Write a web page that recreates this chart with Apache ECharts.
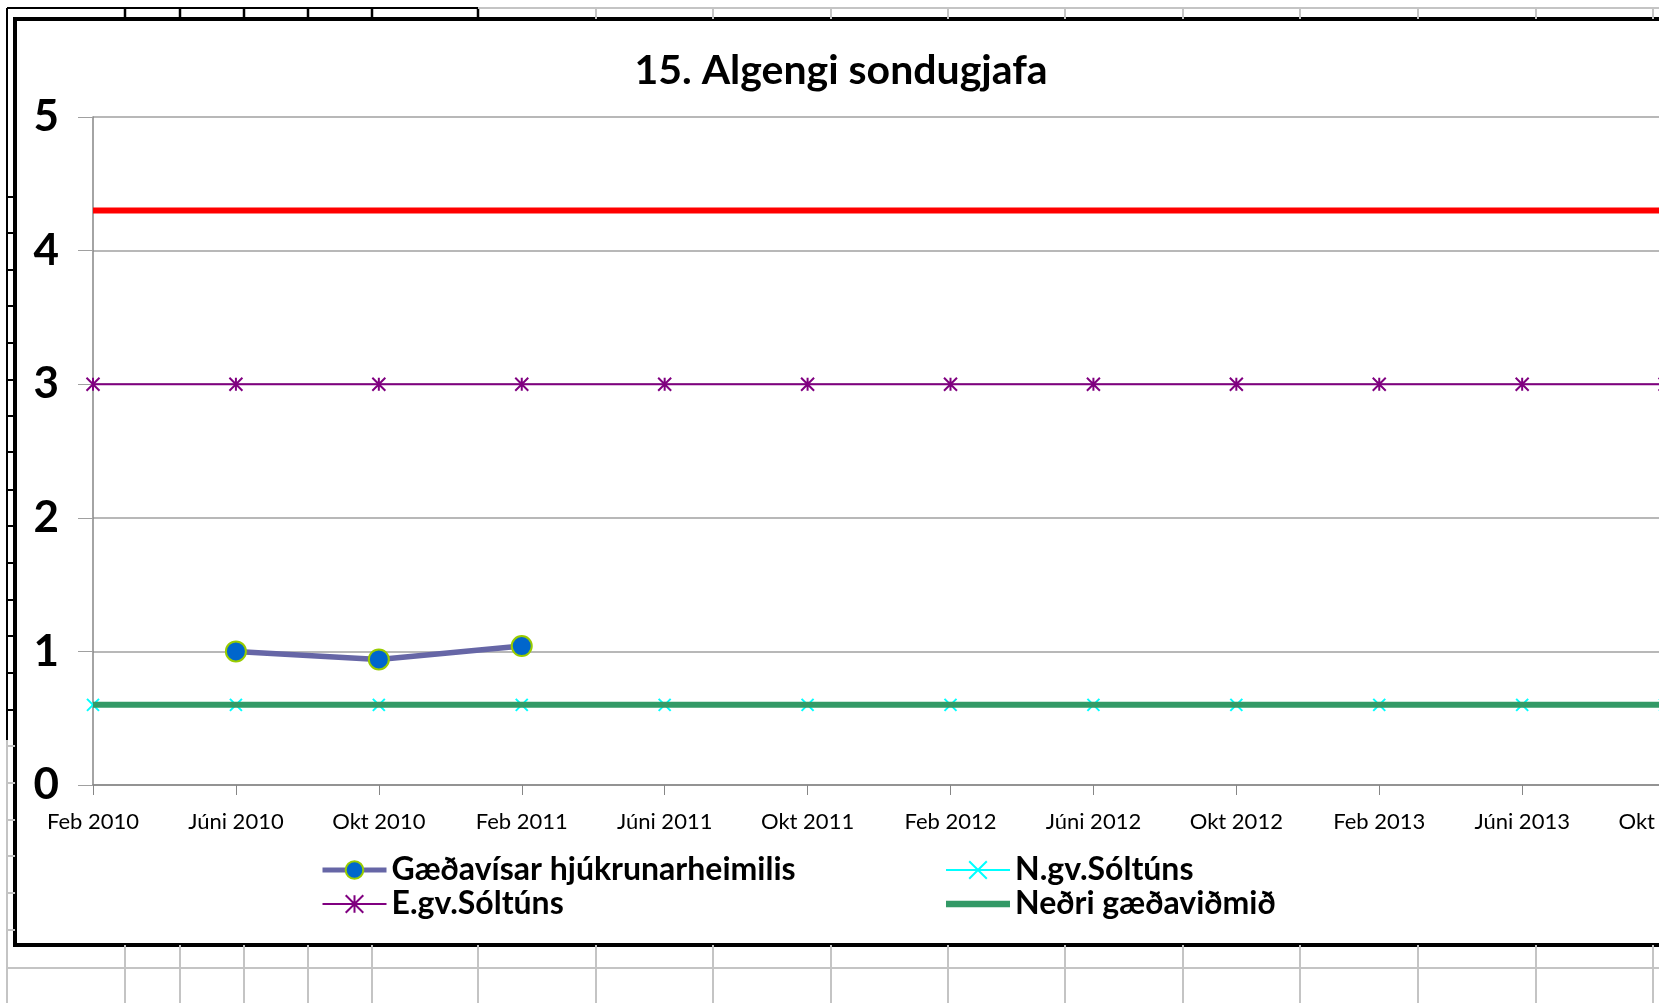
<!DOCTYPE html>
<html>
<head>
<meta charset="utf-8">
<title>15. Algengi sondugjafa</title>
<script src="https://cdn.jsdelivr.net/npm/echarts@6/dist/echarts.min.js"></script>
<style>
  html, body { margin: 0; padding: 0; overflow: hidden; background: #fff; }
  #main { width: 1900px; height: 1003px; }
</style>
</head>
<body>
<div id="main"></div>
<script>
// flokkar (mælingar á 4 mánaða fresti)
const categories = ['Feb 2010', 'Júni 2010', 'Okt 2010', 'Feb 2011', 'Júni 2011', 'Okt 2011',
  'Feb 2012', 'Júni 2012', 'Okt 2012', 'Feb 2013', 'Júni 2013', 'Okt 2013', 'Feb 2014']
const yTicks = [0, 1, 2, 3, 4, 5]

const gaedavisar = [null, 1.0, 0.94, 1.04, null, null, null, null, null, null, null, null, null]
const ngvSoltuns = [0.6, 0.6, 0.6, 0.6, 0.6, 0.6, 0.6, 0.6, 0.6, 0.6, 0.6, 0.6, 0.6]
const egvSoltuns = [3, 3, 3, 3, 3, 3, 3, 3, 3, 3, 3, 3, 3]
const nedriMid = [0.6, 0.6, 0.6, 0.6, 0.6, 0.6, 0.6, 0.6, 0.6, 0.6, 0.6, 0.6, 0.6]
const efriMid = [4.3, 4.3, 4.3, 4.3, 4.3, 4.3, 4.3, 4.3, 4.3, 4.3, 4.3, 4.3, 4.3]

const FONT = 'Lato, "Open Sans", sans-serif'
const GRID_GRAY = '#c4c4c4'

// excel frumur i bakgrunni
const sheetCols = [125, 180, 244, 308, 372, 478, 596, 713, 831, 948, 1065, 1183, 1300, 1418, 1536, 1653]
const sheetLines = []
sheetCols.forEach((x, i) => {
  const dark = i < 6
  sheetLines.push({ type: 'line', shape: { x1: x, y1: 8, x2: x, y2: 19 },
    style: { stroke: dark ? '#000' : GRID_GRAY, lineWidth: dark ? 2.5 : 2 } })
  sheetLines.push({ type: 'line', shape: { x1: x, y1: 945, x2: x, y2: 1003 },
    style: { stroke: GRID_GRAY, lineWidth: 2 } })
})
sheetLines.push({ type: 'line', shape: { x1: 7, y1: 8, x2: 478, y2: 8 }, style: { stroke: '#000', lineWidth: 2 } })
sheetLines.push({ type: 'line', shape: { x1: 478, y1: 8, x2: 1900, y2: 8 }, style: { stroke: GRID_GRAY, lineWidth: 2 } })
sheetLines.push({ type: 'line', shape: { x1: 7, y1: 968, x2: 1900, y2: 968 }, style: { stroke: GRID_GRAY, lineWidth: 2 } })
sheetLines.push({ type: 'line', shape: { x1: 7, y1: 8, x2: 7, y2: 1003 }, style: { stroke: GRID_GRAY, lineWidth: 2 } })
sheetLines.push({ type: 'line', shape: { x1: 7, y1: 8, x2: 7, y2: 740 }, style: { stroke: '#000', lineWidth: 2 } })
;[197, 233, 270, 306, 343, 380, 416, 452, 490, 526, 563, 600, 636, 673, 710, 746, 783, 820, 856, 893, 930].forEach(y => {
  sheetLines.push({ type: 'line', shape: { x1: 7, y1: y, x2: 15, y2: y },
    style: { stroke: y < 740 ? '#000' : GRID_GRAY, lineWidth: 2 } })
})

const legendText = { fontFamily: FONT, fontWeight: 'bold', fontSize: 32, lineHeight: 32, color: '#000', padding: [0, 0, 0, 0] }

const chart = echarts.init(document.getElementById('main'))
chart.setOption({
  backgroundColor: '#fff',
  animation: false,
  graphic: [
    ...sheetLines,
    {
      type: 'rect',
      shape: { x: 15, y: 19, width: 1900, height: 926 },
      style: { fill: '#fff', stroke: '#000', lineWidth: 4 },
      z: -1
    }
  ],
  title: {
    text: '15. Algengi sondugjafa',
    left: 836,
    top: 45,
    textAlign: 'center',
    textStyle: { fontFamily: FONT, fontWeight: 'bold', fontSize: 41, color: '#000' }
  },
  legend: [
    {
      orient: 'vertical',
      left: 315,
      top: 849,
      itemWidth: 64,
      itemHeight: 22,
      itemGap: 2,
      data: [
        { name: 'Gæðavísar hjúkrunarheimilis', lineStyle: { width: 5 } },
        { name: 'E.gv.Sóltúns', lineStyle: { width: 2 } }
      ],
      textStyle: legendText
    },
    {
      orient: 'vertical',
      left: 940,
      top: 849,
      itemWidth: 64,
      itemHeight: 22,
      itemGap: 2,
      data: [
        { name: 'N.gv.Sóltúns', lineStyle: { width: 2 } },
        { name: 'Neðri gæðaviðmið', icon: 'path://M0,0L60,0L60,6L0,6Z' }
      ],
      textStyle: legendText
    }
  ],
  grid: {
    left: 93,
    top: 117,
    right: 92,
    bottom: 218,
    outerBoundsMode: 'none'
  },
  xAxis: {
    type: 'category',
    data: categories,
    boundaryGap: false,
    axisLine: { lineStyle: { color: '#868686', width: 1.5 } },
    axisTick: { show: true, length: 10, lineStyle: { color: '#868686' } },
    axisLabel: { interval: 0, margin: 26, fontFamily: FONT, fontSize: 22, color: '#000' },
    splitLine: { show: false }
  },
  yAxis: {
    type: 'value',
    min: yTicks[0],
    max: yTicks[yTicks.length - 1],
    interval: 1,
    axisLine: { show: true, lineStyle: { color: '#868686', width: 1.5 } },
    axisTick: { show: true, length: 15, lineStyle: { color: '#a0a0a0' } },
    axisLabel: { margin: 34, fontFamily: FONT, fontWeight: 'bold', fontSize: 44, color: '#000' },
    splitLine: { show: true, lineStyle: { color: '#a0a0a0', width: 1.5 } }
  },
  series: [
    {
      name: 'efri',
      type: 'line',
      data: efriMid,
      symbol: 'none',
      z: 3,
      lineStyle: { color: '#ff0000', width: 6 },
      itemStyle: { color: '#ff0000' }
    },
    {
      name: 'E.gv.Sóltúns',
      type: 'line',
      data: egvSoltuns,
      symbol: 'path://M0,0L10,10M10,0L0,10M5,0L5,10',
      symbolSize: 13,
      z: 3,
      lineStyle: { color: '#800080', width: 2 },
      itemStyle: { color: '#800080', borderColor: '#800080', borderWidth: 2 }
    },
    {
      name: 'N.gv.Sóltúns',
      type: 'line',
      data: ngvSoltuns,
      symbol: 'path://M0,0L10,10M10,0L0,10',
      symbolSize: 12,
      z: 3,
      lineStyle: { color: '#00ffff', width: 2 },
      itemStyle: { color: '#00ffff', borderColor: '#00ffff', borderWidth: 2 }
    },
    {
      name: 'Neðri gæðaviðmið',
      type: 'line',
      data: nedriMid,
      symbol: 'none',
      z: 4,
      lineStyle: { color: '#339966', width: 6 },
      itemStyle: { color: '#339966' }
    },
    {
      name: 'Gæðavísar hjúkrunarheimilis',
      type: 'line',
      data: gaedavisar,
      symbol: 'circle',
      symbolSize: 20,
      z: 5,
      lineStyle: { color: '#6666a6', width: 5.5 },
      itemStyle: { color: '#0066cc', borderColor: '#99cc00', borderWidth: 2 }
    }
  ]
})
</script>
</body>
</html>
